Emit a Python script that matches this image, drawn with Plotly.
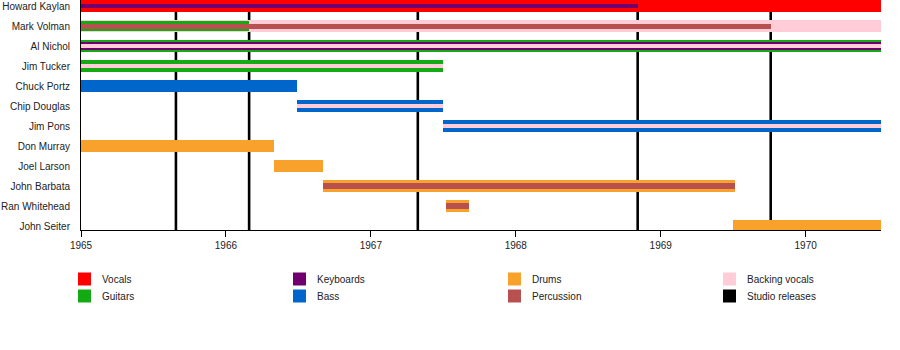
import plotly.graph_objects as go

members = ["Howard Kaylan", "Mark Volman", "Al Nichol", "Jim Tucker", "Chuck Portz",
           "Chip Douglas", "Jim Pons", "Don Murray", "Joel Larson", "John Barbata",
           "Ran Whitehead", "John Seiter"]
x_start = 1965.0
x_end = 1970.52
year_ticks = [1965, 1966, 1967, 1968, 1969, 1970]

# role colours
role_colors = {
    "Vocals": "#FF0000",
    "Guitars": "#14AA14",
    "Keyboards": "#700070",
    "Bass": "#0066CC",
    "Drums": "#F9A22B",
    "Percussion": "#B85050",
    "Backing vocals": "#FFCCD8",
    "Studio releases": "#000000",
}

# membership periods: (member, role, start, end, bar thickness in rows)
periods_member = ["Howard Kaylan", "Howard Kaylan",
                  "Mark Volman", "Mark Volman", "Mark Volman",
                  "Al Nichol", "Al Nichol", "Al Nichol",
                  "Jim Tucker", "Jim Tucker",
                  "Chuck Portz",
                  "Chip Douglas", "Chip Douglas",
                  "Jim Pons", "Jim Pons",
                  "Don Murray", "Joel Larson",
                  "John Barbata", "John Barbata",
                  "Ran Whitehead", "Ran Whitehead",
                  "John Seiter"]
periods_role = ["Vocals", "Keyboards",
                "Backing vocals", "Guitars", "Percussion",
                "Guitars", "Keyboards", "Backing vocals",
                "Guitars", "Backing vocals",
                "Bass",
                "Bass", "Backing vocals",
                "Bass", "Backing vocals",
                "Drums", "Drums",
                "Drums", "Percussion",
                "Drums", "Percussion",
                "Drums"]
periods_start = [1965.0, 1965.0,
                 1965.0, 1965.0, 1965.0,
                 1965.0, 1965.0, 1965.0,
                 1965.0, 1965.0,
                 1965.0,
                 1966.49, 1966.49,
                 1967.5, 1967.5,
                 1965.0, 1966.33,
                 1966.67, 1966.67,
                 1967.52, 1967.52,
                 1969.5]
periods_end = [1970.52, 1968.84,
               1970.52, 1966.16, 1969.76,
               1970.52, 1970.52, 1970.52,
               1967.5, 1967.5,
               1966.49,
               1967.5, 1967.5,
               1970.52, 1970.52,
               1966.33, 1966.67,
               1969.51, 1969.51,
               1967.68, 1967.68,
               1970.52]
periods_width = [0.6, 0.2,
                 0.6, 0.5, 0.25,
                 0.6, 0.4, 0.2,
                 0.6, 0.2,
                 0.6,
                 0.6, 0.2,
                 0.6, 0.2,
                 0.6, 0.6,
                 0.62, 0.3,
                 0.6, 0.28,
                 0.6]

studio_releases = [1965.655, 1966.16, 1967.324, 1968.841, 1969.759]

legend_rows = [["Vocals", "Keyboards", "Drums", "Backing vocals"],
               ["Guitars", "Bass", "Percussion", "Studio releases"]]

row_index = {m: i for i, m in enumerate(members)}

fig = go.Figure()
for m, r, s, e, w in zip(periods_member, periods_role, periods_start, periods_end, periods_width):
    fig.add_trace(go.Bar(
        y=[row_index[m]], x=[e - s], base=[s], width=[w], orientation="h",
        marker=dict(color=role_colors[r], line=dict(width=0)),
        showlegend=False, hoverinfo="skip"))

shapes = []
for d in studio_releases:
    shapes.append(dict(type="line", xref="x", yref="paper", x0=d, x1=d, y0=0, y1=1,
                       line=dict(color="black", width=2.6), layer="below"))

annotations = []
col_x = [78, 293, 508, 723]
row_y = [279, 296]
W, H = 900, 350
for ri, row in enumerate(legend_rows):
    for ci, name in enumerate(row):
        x0 = col_x[ci]
        yc = row_y[ri]
        shapes.append(dict(type="rect", xref="paper", yref="paper",
                           x0=(x0 - 81) / 800, x1=(x0 + 13 - 81) / 800,
                           y0=(230 - (yc + 6.5)) / 230, y1=(230 - (yc - 6.5)) / 230,
                           fillcolor=role_colors[name], line=dict(width=0)))
        annotations.append(dict(xref="paper", yref="paper",
                                x=(x0 + 22 - 81) / 800, y=(230 - yc) / 230,
                                text=name, showarrow=False, xanchor="left", yanchor="middle",
                                font=dict(size=10, color="#222222")))

fig.update_layout(
    width=W, height=H,
    margin=dict(l=81, r=19, t=0, b=120),
    plot_bgcolor="white", paper_bgcolor="white",
    barmode="overlay", bargap=0,
    font=dict(family="Liberation Sans, Arial, sans-serif", size=10, color="#222222"),
    shapes=shapes, annotations=annotations,
    showlegend=False,
    xaxis=dict(range=[x_start, x_end], tickvals=year_ticks, ticktext=[str(y) for y in year_ticks],
               showline=True, linecolor="black", linewidth=1, mirror=False,
               ticks="outside", ticklen=6, tickcolor="black", tickwidth=1,
               showgrid=False, zeroline=False, tickfont=dict(size=10, color="#222222")),
    yaxis=dict(range=[11.2, -0.3], tickvals=list(range(len(members))), ticktext=members,
               showline=True, linecolor="black", linewidth=1,
               ticks="", ticklabelstandoff=8,
               showgrid=False, zeroline=False, tickfont=dict(size=10, color="#222222")),
)

fig.write_html("out.html")
